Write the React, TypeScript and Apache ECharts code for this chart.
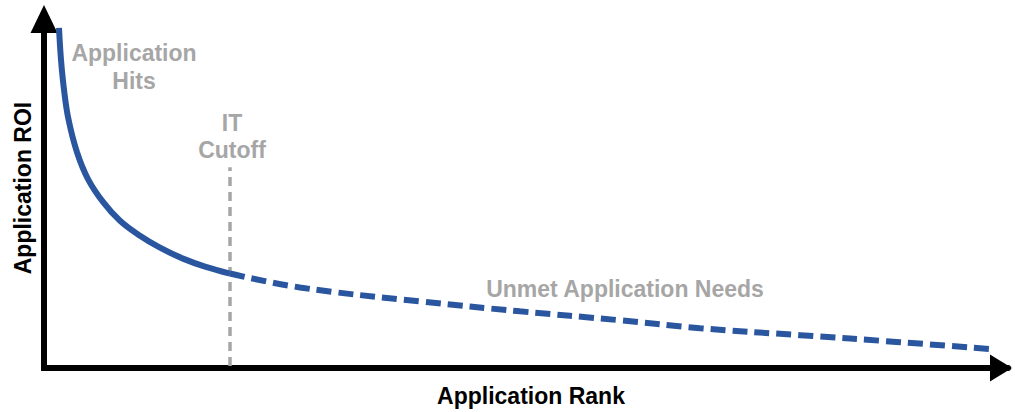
import React, { useEffect, useRef } from "react";
import * as echarts from "echarts";

// Application hits (solid part of the curve, up to the IT cutoff)
const hitsRank = [15, 17, 20, 24.5, 33, 44, 59, 76, 96, 116, 139, 161, 186];
const hitsRoi = [342, 310, 280, 250, 217, 190, 167, 148, 133, 121, 110, 102, 95];

// Unmet application needs (dashed part of the curve)
const unmetRank = [186, 256, 376, 476, 576, 656, 756, 856, 946];
const unmetRoi = [95, 81, 67, 57, 48, 40, 33, 26, 19];

// IT cutoff marker
const cutoffRank = [186, 186];
const cutoffRoi = [2, 202];

const labelTexts = ["Application\nHits", "IT\nCutoff", "Unmet Application Needs"];

const FONT = "'Liberation Sans', Arial, Helvetica, sans-serif";
const BLUE = "#2A56A0";
const GRAY = "#A6A6A6";

export default function App() {
  const ref = useRef<HTMLDivElement>(null);
  useEffect(() => {
    document.body.style.margin = "0";
    const chart = echarts.init(ref.current as HTMLDivElement, null, { renderer: "svg" });
    const nameStyle = { fontFamily: FONT, fontWeight: "bold", fontSize: 23, color: "#000" };
    const textStyle = { fontFamily: FONT, fontWeight: "bold", fontSize: 23, fill: GRAY, textAlign: "center", textVerticalAlign: "middle" };
    chart.setOption({
      animation: false,
      grid: { left: 44, right: 7, top: 14, bottom: 42, containLabel: false },
      xAxis: {
        type: "value",
        min: 0,
        max: 964,
        axisLine: {
          show: true,
          symbol: ["none", "triangle"],
          symbolSize: [27, 22],
          symbolOffset: [0, -7],
          lineStyle: { color: "#000", width: 6 },
        },
        axisTick: { show: false },
        axisLabel: { show: false },
        splitLine: { show: false },
        name: "Application Rank",
        nameLocation: "middle",
        nameGap: 16,
        nameTextStyle: { ...nameStyle, padding: [0, 0, 0, 10] },
      },
      yAxis: {
        type: "value",
        min: 0,
        max: 356,
        axisLine: {
          show: true,
          symbol: ["none", "triangle"],
          symbolSize: [27, 28],
          symbolOffset: [0, -5],
          lineStyle: { color: "#000", width: 6, cap: "square" },
        },
        axisTick: { show: false },
        axisLabel: { show: false },
        splitLine: { show: false },
        name: "Application ROI",
        nameLocation: "middle",
        nameGap: 10,
        nameTextStyle: { ...nameStyle, padding: [0, 0, 0, 6] },
      },
      series: [
        {
          name: "IT Cutoff",
          type: "line",
          z: 1,
          symbol: "none",
          silent: true,
          data: cutoffRank.map((r, i) => [r, cutoffRoi[i]]),
          lineStyle: { color: GRAY, width: 3.5, type: [9, 6] },
        },
        {
          name: "Application Hits",
          type: "line",
          z: 3,
          smooth: 0.4,
          symbol: "none",
          clip: false,
          silent: true,
          data: hitsRank.map((r, i) => [r, hitsRoi[i]]),
          lineStyle: { color: BLUE, width: 6 },
        },
        {
          name: "Unmet Application Needs",
          type: "line",
          z: 3,
          smooth: 0.4,
          symbol: "none",
          clip: false,
          silent: true,
          data: unmetRank.map((r, i) => [r, unmetRoi[i]]),
          lineStyle: { color: BLUE, width: 6, type: [15, 7] },
        },
      ],
      graphic: [
        { type: "text", x: 134, y: 67, style: { ...textStyle, text: labelTexts[0], lineHeight: 28 } },
        { type: "text", x: 232, y: 136, style: { ...textStyle, text: labelTexts[1], lineHeight: 27 } },
        { type: "text", x: 625, y: 289, style: { ...textStyle, text: labelTexts[2] } },
      ],
    });
    return () => chart.dispose();
  }, []);
  return <div ref={ref} style={{ width: 1015, height: 412 }} />;
}
